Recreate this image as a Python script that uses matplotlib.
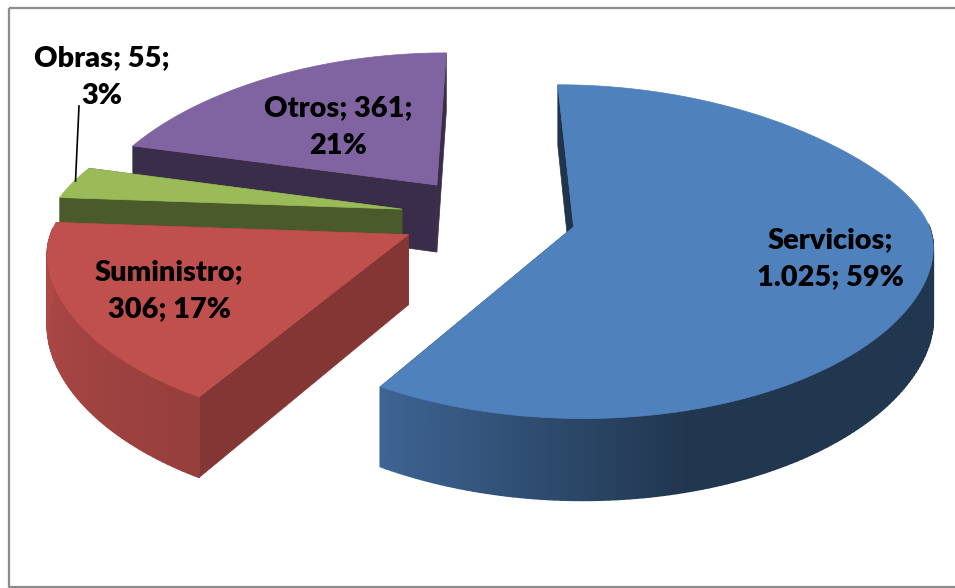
import matplotlib
matplotlib.use('Agg')
import matplotlib.pyplot as plt
from matplotlib.collections import PolyCollection
from matplotlib.patches import Polygon, Rectangle
import numpy as np

categories = ['Servicios', 'Suministro', 'Obras', 'Otros']
values = [1025, 306, 55, 361]
labels = ['Servicios;\n1.025; 59%', 'Suministro;\n306; 17%', 'Obras; 55;\n3%', 'Otros; 361;\n21%']
colors = ['#4f81bd', '#c0504d', '#9bbb59', '#8064a2']

# layout of the drawing, in pixels of the 955x588 picture
label_pos = [(830, 259), (169, 291), (102, 77), (338, 127)]
front_shade = [0.40, 0.68, 0.48, 0.45]
start_angle = 0
explode = 0.25
cx, cy = 488, 216
rx, ry, persp, depth = 352, 160, 0.147, 69


def project(x, y, z=0.0):
    # unit circle seen from above and from the front, near things are bigger
    s = 1 / (1 - persp * y)
    k = 0.165 - 0.065 * np.tanh(y * 3)
    sx = 1 / (1 - k * y)
    return np.column_stack([cx + rx * x * sx, cy + ry * y * s + depth * z * s])


def shade(color, f):
    return tuple(np.array(matplotlib.colors.to_rgb(color)) * f)


def rim_light(t):
    return np.interp(t, [90, 165, 211, 274], [0.42, 0.42, 0.78, 0.92])


fig = plt.figure(figsize=(9.55, 5.88), dpi=100)
ax = fig.add_axes([0, 0, 1, 1])
ax.set_xlim(0, 955)
ax.set_ylim(588, 0)
ax.axis('off')

ax.add_patch(Rectangle((8.5, 8), 960, 579, fill=False, edgecolor='#8c8c8c', linewidth=1.6, zorder=0))

sweeps = np.array(values) / np.sum(values) * 360
starts = start_angle + np.concatenate([[0], np.cumsum(sweeps)[:-1]])

# back to front: Otros, Obras, Suministro, Servicios
for i in [3, 2, 1, 0]:
    t0, t1 = starts[i], starts[i] + sweeps[i]
    mid = np.radians((t0 + t1) / 2)
    ox, oy = explode * np.sin(mid), -explode * np.cos(mid)
    t = np.linspace(t0, t1, max(int(sweeps[i]), 8) + 1)
    xs = ox + np.sin(np.radians(t))
    ys = oy - np.cos(np.radians(t))

    # flat cut faces
    for j in [0, -1]:
        face = np.vstack([project(np.array([ox, xs[j]]), np.array([oy, ys[j]])),
                          project(np.array([xs[j], ox]), np.array([ys[j], oy]), 1.0)])
        ax.add_patch(Polygon(face, closed=True, facecolor=shade(colors[i], front_shade[i]),
                             edgecolor=shade(colors[i], front_shade[i]), linewidth=0.5, zorder=2))

    # outer wall, only the part that faces us
    quads, quad_colors = [], []
    for a in range(len(t) - 1):
        if np.cos(np.radians(t[a])) > 0.03:
            continue
        q = np.vstack([project(xs[a:a + 2], ys[a:a + 2]),
                       project(xs[a:a + 2][::-1], ys[a:a + 2][::-1], 1.0)])
        quads.append(q)
        quad_colors.append(shade(colors[i], rim_light((t[a] + t[a + 1]) / 2)))
    if quads:
        ax.add_collection(PolyCollection(quads, facecolors=quad_colors, edgecolors=quad_colors,
                                         linewidths=1.2, zorder=2))

    # top
    top = np.vstack([project(np.array([ox]), np.array([oy])), project(xs, ys)])
    ax.add_patch(Polygon(top, closed=True, facecolor=colors[i], edgecolor=colors[i],
                         linewidth=0.5, zorder=2))

ax.plot([79, 75.5], [106, 181], color='black', linewidth=1.2, zorder=3)

for lab, (lx, ly) in zip(labels, label_pos):
    ax.text(lx, ly, lab, ha='center', va='center', family='Lato', fontweight='heavy',
            fontsize=20.8, linespacing=1.53, color='black', zorder=4)

fig.savefig('out.png', dpi=100)
